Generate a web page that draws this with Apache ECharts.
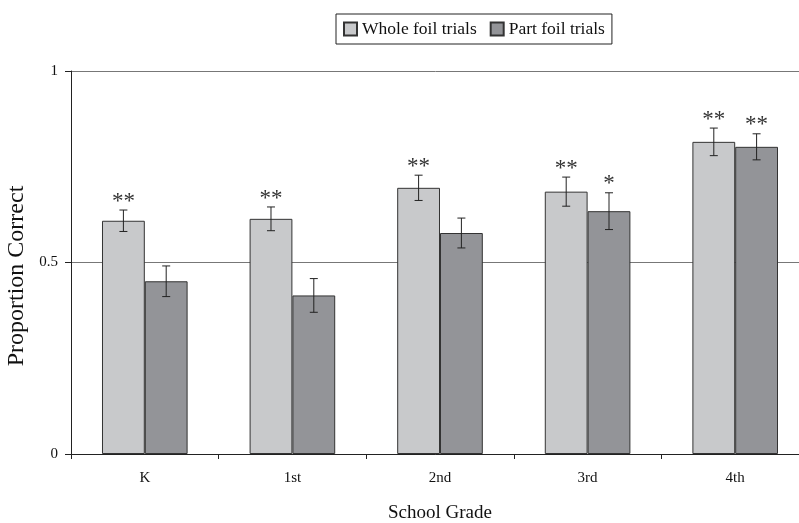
<!DOCTYPE html>
<html>
<head>
<meta charset="utf-8">
<script src="https://cdn.jsdelivr.net/npm/echarts@6/dist/echarts.min.js"></script>
<style>html,body{margin:0;padding:0;background:#fff;}#c{width:799px;height:523px;}</style>
</head>
<body>
<div id="c"></div>
<script>
var categories = ['K', '1st', '2nd', '3rd', '4th'];
var wholeVals = [0.609, 0.614, 0.695, 0.685, 0.815];
var wholeErr = [0.028, 0.031, 0.033, 0.038, 0.036];
var partVals = [0.451, 0.414, 0.577, 0.634, 0.802];
var partErr = [0.040, 0.044, 0.039, 0.048, 0.034];
var wholeSig = ['**', '**', '**', '**', '**'];
var partSig = ['', '', '', '*', '**'];
var yTicks = [0, 0.5, 1];

var FONT = 'Liberation Serif';
var GAP = 0.42;

function errSeries(vals, errs, sigs, side) {
  return {
    type: 'custom',
    silent: true,
    z: 5,
    data: vals.map(function (v, i) { return [i, v, errs[i]]; }),
    renderItem: function (params, api) {
      var i = api.value(0), v = api.value(1), e = api.value(2);
      var band = api.size([1, 0])[0];
      var bw = band * (1 - GAP) / 2;
      var c = api.coord([i, v]);
      var x = c[0] + side * bw / 2;
      var yHi = api.coord([i, v + e])[1];
      var yLo = api.coord([i, v - e])[1];
      var cap = 4;
      var st = { stroke: '#222', lineWidth: 1 };
      var children = [
        { type: 'line', shape: { x1: x, y1: yHi, x2: x, y2: yLo }, style: st },
        { type: 'line', shape: { x1: x - cap, y1: yHi, x2: x + cap, y2: yHi }, style: st },
        { type: 'line', shape: { x1: x - cap, y1: yLo, x2: x + cap, y2: yLo }, style: st }
      ];
      var s = sigs[i];
      if (s) {
        children.push({
          type: 'text',
          style: {
            text: s, x: x, y: yHi + 3, align: 'center', verticalAlign: 'bottom',
            fill: '#333', font: '23px "' + FONT + '"'
          }
        });
      }
      return { type: 'group', children: children };
    }
  };
}

var chart = echarts.init(document.getElementById('c'));
chart.setOption({
  animation: false,
  backgroundColor: '#fff',
  legend: {
    top: 14,
    left: 336,
    data: ['Whole foil trials', 'Part foil trials'],
    icon: 'rect',
    itemWidth: 13,
    itemHeight: 13,
    itemGap: 13,
    padding: [6, 7, 6, 7],
    borderColor: '#222',
    borderWidth: 1,
    borderRadius: 0,
    textStyle: { fontFamily: FONT, fontSize: 17.5, color: '#111' }
  },
  grid: { left: 71, right: -10, top: 71, bottom: 69, outerBoundsMode: 'none', containLabel: false },
  xAxis: {
    type: 'category',
    data: categories,
    name: 'School Grade',
    nameLocation: 'middle',
    nameGap: 50,
    nameTextStyle: { fontFamily: FONT, fontSize: 19, color: '#111' },
    axisLine: { lineStyle: { color: '#222', width: 1 } },
    axisTick: { show: true, length: 5, lineStyle: { color: '#222' } },
    axisLabel: { fontFamily: FONT, fontSize: 15, color: '#111', margin: 17 }
  },
  yAxis: {
    type: 'value',
    min: 0, max: 1, interval: 0.5,
    name: 'Proportion Correct',
    nameLocation: 'middle',
    nameGap: 40,
    nameTextStyle: { fontFamily: FONT, fontSize: 24, color: '#111', padding: [0, 27, 0, 0] },
    axisLine: { show: true, lineStyle: { color: '#222', width: 1 } },
    axisTick: { show: true, length: 6, lineStyle: { color: '#222' } },
    axisLabel: {
      fontFamily: FONT, fontSize: 15, color: '#111', margin: 13,
      formatter: function (v) { return yTicks.indexOf(v) >= 0 ? String(v) : ''; }
    },
    splitLine: { show: true, lineStyle: { color: '#777', width: 1 } }
  },
  series: [
    {
      name: 'Whole foil trials', type: 'bar', data: wholeVals,
      barGap: '0%', barCategoryGap: (GAP * 100) + '%',
      itemStyle: { color: '#c8c9cb', borderColor: '#333', borderWidth: 1 }
    },
    {
      name: 'Part foil trials', type: 'bar', data: partVals,
      barGap: '0%', barCategoryGap: (GAP * 100) + '%',
      itemStyle: { color: '#939498', borderColor: '#333', borderWidth: 1 }
    },
    errSeries(wholeVals, wholeErr, wholeSig, -1),
    errSeries(partVals, partErr, partSig, 1)
  ]
});
</script>
</body>
</html>
